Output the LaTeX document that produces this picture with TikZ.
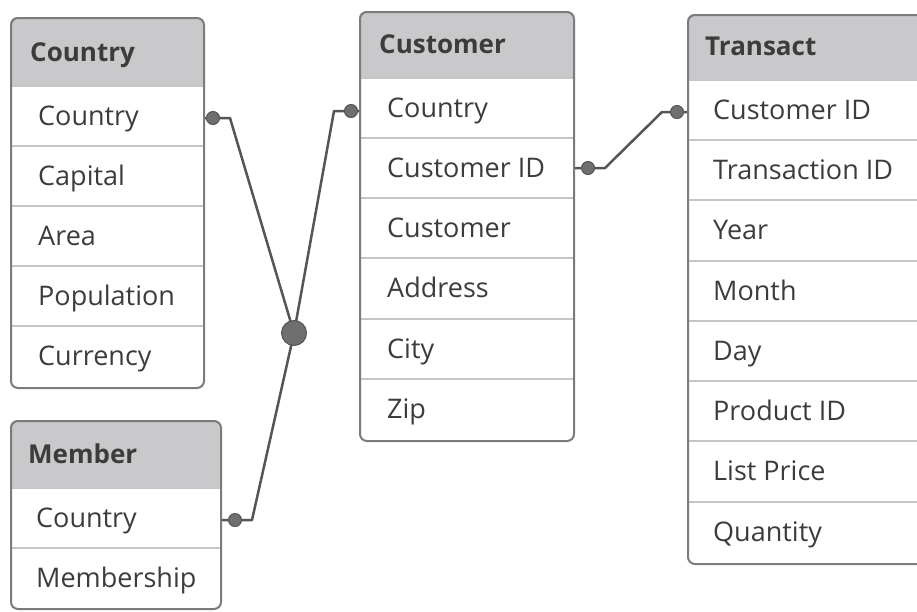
\documentclass[tikz,border=0pt]{standalone}
\usepackage{fontspec}
\setmainfont{Open Sans}
\definecolor{hdr}{HTML}{C9C8CA}
\definecolor{frm}{HTML}{7B7B7D}
\definecolor{sepc}{HTML}{C6C6C8}
\definecolor{txt}{HTML}{3C3C3C}
\definecolor{conc}{HTML}{555555}
\definecolor{dotc}{HTML}{6F6F6F}
\begin{document}
\begin{tikzpicture}[x=1pt,y=1pt,
 frame/.style={draw=frm, line width=2pt, rounded corners=7pt, inner sep=0pt, anchor=north west},
 hdrtxt/.style={anchor=base west, inner sep=0pt, font=\fontsize{26}{30}\selectfont\bfseries, text=txt},
 rowtxt/.style={anchor=base west, inner sep=0pt, font=\fontsize{27}{31}\selectfont, text=txt},
 sep/.style={draw=sepc, line width=1.5pt},
 conn/.style={draw=conc, line width=2.5pt, line join=round},
 dot/.style={circle, fill=dotc, draw=conc, line width=1pt, inner sep=0pt, minimum size=13pt},
 bigdot/.style={circle, fill=dotc, draw=conc, line width=1pt, inner sep=0pt, minimum size=25pt}]
\useasboundingbox (0,0) rectangle (917,-611);
\clip (0,0) rectangle (917,-611);

% ---------- Country ----------
\begin{scope}
\clip[rounded corners=7pt] (10,-17) rectangle (203,-387);
\fill[hdr] (10,-17) rectangle (203,-86);
\end{scope}
\foreach \y in {86,146,206,266,326} \draw[sep] (10,-\y) -- (203,-\y);
\node[frame, minimum width=193pt, minimum height=370pt] (country) at (10,-17) {};
\node[hdrtxt] (countryH) at (30,-61) {Country};
\node[rowtxt] (country1) at (38,-125) {Country};
\node[rowtxt] (country2) at (38,-185) {Capital};
\node[rowtxt] (country3) at (38,-245) {Area};
\node[rowtxt] (country4) at (38,-305) {Population};
\node[rowtxt] (country5) at (38,-365) {Currency};

% ---------- Member ----------
\begin{scope}
\clip[rounded corners=7pt] (10,-420) rectangle (220,-608);
\fill[hdr] (10,-420) rectangle (220,-488);
\end{scope}
\foreach \y in {488,548} \draw[sep] (10,-\y) -- (220,-\y);
\node[frame, minimum width=210pt, minimum height=188pt] (member) at (10,-420) {};
\node[hdrtxt] (memberH) at (28,-463) {Member};
\node[rowtxt] (member1) at (36,-527) {Country};
\node[rowtxt] (member2) at (36,-587) {Membership};

% ---------- Customer ----------
\begin{scope}
\clip[rounded corners=7pt] (359,-11) rectangle (573,-440);
\fill[hdr] (359,-11) rectangle (573,-78);
\end{scope}
\foreach \y in {78,138,198,258,319,379} \draw[sep] (359,-\y) -- (573,-\y);
\node[frame, minimum width=214pt, minimum height=429pt] (customer) at (359,-11) {};
\node[hdrtxt] (customerH) at (379,-53) {Customer};
\node[rowtxt] (customer1) at (387,-117) {Country};
\node[rowtxt] (customer2) at (387,-177) {Customer ID};
\node[rowtxt] (customer3) at (387,-237) {Customer};
\node[rowtxt] (customer4) at (387,-297) {Address};
\node[rowtxt] (customer5) at (387,-358) {City};
\node[rowtxt] (customer6) at (387,-418) {Zip};

% ---------- Transact ----------
\begin{scope}
\clip[rounded corners=7pt] (687,-14) rectangle (960,-563);
\fill[hdr] (687,-14) rectangle (960,-80);
\end{scope}
\foreach \y in {80,140,200,261,321,381,441,502} \draw[sep] (687,-\y) -- (960,-\y);
\node[frame, minimum width=273pt, minimum height=549pt] (transact) at (687,-14) {};
\node[hdrtxt] (transactH) at (705,-55) {Transact};
\node[rowtxt] (transact1) at (713,-119) {Customer ID};
\node[rowtxt] (transact2) at (713,-179) {Transaction ID};
\node[rowtxt] (transact3) at (713,-239) {Year};
\node[rowtxt] (transact4) at (713,-300) {Month};
\node[rowtxt] (transact5) at (713,-360) {Day};
\node[rowtxt] (transact6) at (713,-420) {Product ID};
\node[rowtxt] (transact7) at (713,-480) {List Price};
\node[rowtxt] (transact8) at (713,-541) {Quantity};

% ---------- Connectors ----------
\coordinate (cD) at (213,-118);
\coordinate (kD) at (351,-111);
\coordinate (mD) at (235,-520);
\coordinate (kD2) at (588,-168);
\coordinate (tD) at (677,-112);
\coordinate (cB) at (230,-118);
\coordinate (kB) at (334,-111);
\coordinate (mB) at (252,-520);
\coordinate (kB2) at (605,-168);
\coordinate (tB) at (662,-112);
\coordinate (J) at (294,-333);

\draw[conn] (country.east |- cD) -- (cD) -- (cB) -- (J);
\draw[conn] (customer.west |- kD) -- (kD) -- (kB) -- (J);
\draw[conn] (member.east |- mD) -- (mD) -- (mB) -- (J);
\draw[conn] (customer.east |- kD2) -- (kD2) -- (kB2) -- (tB) -- (tD) -- (transact.west |- tD);

\node[dot] (cDot) at (cD) {};
\node[dot] (kDot) at (kD) {};
\node[dot] (mDot) at (mD) {};
\node[dot] (kDot2) at (kD2) {};
\node[dot] (tDot) at (tD) {};
\node[bigdot] (jDot) at (J) {};
\end{tikzpicture}
\end{document}
